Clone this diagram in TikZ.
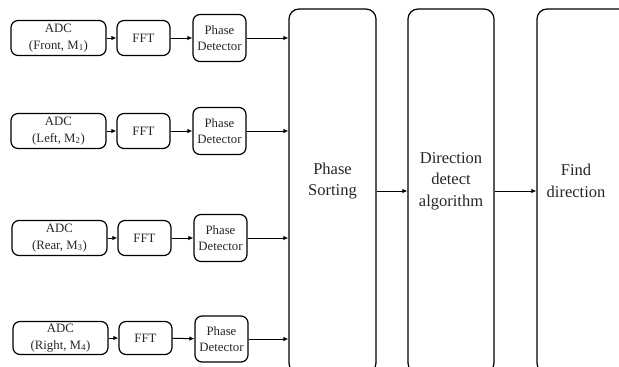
\documentclass[tikz,border=0pt]{standalone}
\usepackage{fontspec}
\setmainfont{Liberation Serif}
\usetikzlibrary{arrows.meta}
\tikzset{
  sbox/.style={draw=black, line width=1.2pt, rounded corners=7pt, align=center, inner sep=0pt,
    font=\fontsize{12.8}{16.5}\selectfont, text=black!85},
  bbox/.style={draw=black, line width=1.2pt, rounded corners=10pt, inner sep=0pt},
  btext/.style={align=center, font=\fontsize{16.5}{21.5}\selectfont, text=black!85},
  arr/.style={line width=1pt, -{Latex[length=5pt,width=4.5pt]}},
}
\begin{document}
\begin{tikzpicture}[x=1pt,y=-1pt]
\useasboundingbox (0,0) rectangle (619,367);
% row 1
\node[sbox, minimum width=95pt, minimum height=35pt] (adc1) at (58.5,38) {ADC\\(Front, M\textsubscript{1})};
\node[sbox, minimum width=53pt, minimum height=35pt] (fft1) at (143.5,38) {FFT};
\node[sbox, minimum width=53pt, minimum height=47pt] (pd1) at (219.5,38) {Phase\\Detector};
% row 2
\node[sbox, minimum width=95pt, minimum height=35pt] (adc2) at (58.5,131) {ADC\\(Left, M\textsubscript{2})};
\node[sbox, minimum width=53pt, minimum height=35pt] (fft2) at (143.5,131) {FFT};
\node[sbox, minimum width=53pt, minimum height=47pt] (pd2) at (219.5,131) {Phase\\Detector};
% row 3
\node[sbox, minimum width=95pt, minimum height=35pt] (adc3) at (59.5,238) {ADC\\(Rear, M\textsubscript{3})};
\node[sbox, minimum width=53pt, minimum height=35pt] (fft3) at (144.5,238) {FFT};
\node[sbox, minimum width=53pt, minimum height=47pt] (pd3) at (220.5,238) {Phase\\Detector};
% row 4
\node[sbox, minimum width=95pt, minimum height=33pt] (adc4) at (60.5,338) {ADC\\(Right, M\textsubscript{4})};
\node[sbox, minimum width=53pt, minimum height=33pt] (fft4) at (145.5,338) {FFT};
\node[sbox, minimum width=53pt, minimum height=46pt] (pd4) at (221.5,339) {Phase\\Detector};
% big boxes
\node[bbox, minimum width=87pt, minimum height=364pt] (ps) at (332.5,191) {};
\node[bbox, minimum width=86pt, minimum height=364pt] (dd) at (451,191) {};
\node[bbox, minimum width=92pt, minimum height=364pt] (fd) at (583,191) {};
\node[btext] (pst) at (332.5,181) {Phase\\Sorting};
\node[btext] (ddt) at (451,181) {Direction\\detect\\algorithm};
\node[btext] (fdt) at (576,181) {Find\\direction};
% arrows
\foreach \i in {1,2,3,4}{
  \draw[arr] (adc\i) -- (fft\i);
  \draw[arr] (fft\i) -- (pd\i);
  \draw[arr] (pd\i.east) -- (pd\i.east -| ps.west);
}
\draw[arr] (ps) -- (dd);
\draw[arr] (dd) -- (fd);
\end{tikzpicture}
\end{document}
